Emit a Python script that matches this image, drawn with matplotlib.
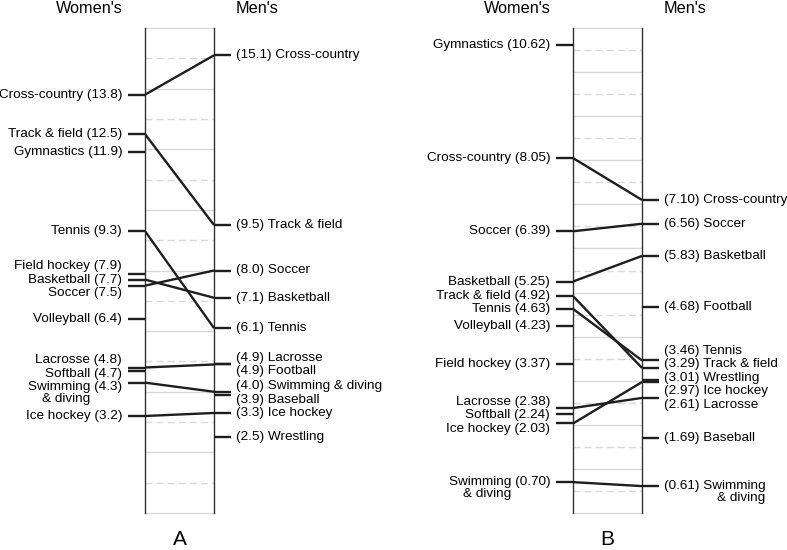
import matplotlib
matplotlib.use("Agg")
import matplotlib.pyplot as plt
import numpy as np

plt.rcParams["font.family"] = ["Liberation Sans", "DejaVu Sans"]

# painel A
mulheres_a = ["Cross-country", "Track & field", "Gymnastics", "Tennis", "Field hockey",
              "Basketball", "Soccer", "Volleyball", "Lacrosse", "Softball",
              "Swimming\n& diving", "Ice hockey"]
valores_mulheres_a = [13.8, 12.5, 11.9, 9.3, 7.9, 7.7, 7.5, 6.4, 4.8, 4.7, 4.3, 3.2]
homens_a = ["Cross-country", "Track & field", "Soccer", "Basketball", "Tennis", "Lacrosse",
            "Football", "Swimming & diving", "Baseball", "Ice hockey", "Wrestling"]
valores_homens_a = [15.1, 9.5, 8.0, 7.1, 6.1, 4.9, 4.9, 4.0, 3.9, 3.3, 2.5]

# painel B
mulheres_b = ["Gymnastics", "Cross-country", "Soccer", "Basketball", "Track & field", "Tennis",
              "Volleyball", "Field hockey", "Lacrosse", "Softball", "Ice hockey",
              "Swimming\n& diving"]
valores_mulheres_b = [10.62, 8.05, 6.39, 5.25, 4.92, 4.63, 4.23, 3.37, 2.38, 2.24, 2.03, 0.70]
homens_b = ["Cross-country", "Soccer", "Basketball", "Football", "Tennis", "Track & field",
            "Wrestling", "Ice hockey", "Lacrosse", "Baseball", "Swimming\n& diving"]
valores_homens_b = [7.10, 6.56, 5.83, 4.68, 3.46, 3.29, 3.01, 2.97, 2.61, 1.69, 0.61]

cor_linha = "#1e1e1e"
cor_grade = "#d9d9d9"
fs = 9.7


def espalhar(vals, gap):
    # afasta os rótulos que ficariam sobrepostos, centrando cada grupo na média
    vals = np.asarray(vals, dtype=float)
    ordem = list(np.argsort(-vals, kind="stable"))
    grupos = [[i] for i in ordem]
    while True:
        pos = {}
        for g in grupos:
            centro = vals[g].mean()
            n = len(g)
            for k, i in enumerate(g):
                pos[i] = centro + gap * ((n - 1) / 2 - k)
        juntou = False
        for j in range(len(grupos) - 1):
            if pos[grupos[j][-1]] - pos[grupos[j + 1][0]] < gap - 1e-9:
                grupos[j] = grupos[j] + grupos[j + 1]
                del grupos[j + 1]
                juntou = True
                break
        if not juntou:
            return [pos[i] for i in range(len(vals))]


def desenhar_painel(fig, ax, mulheres, vm, homens, vh, ymax, passo, casas, letra):
    ax.set_xlim(0, 1)
    ax.set_ylim(0, ymax)
    ax.set_xticks([])
    ax.set_yticks([])
    for s in ["top", "bottom"]:
        ax.spines[s].set_visible(False)
    for s in ["left", "right"]:
        ax.spines[s].set_color("#333333")
        ax.spines[s].set_linewidth(1.0)
        ax.spines[s].set_zorder(3)

    for k, y in enumerate(np.arange(0, ymax + 1e-9, passo)):
        if k % 2 == 0:
            ax.axhline(y, color=cor_grade, lw=1, zorder=1, clip_on=False)
        else:
            ax.axhline(y, color=cor_grade, lw=1, dashes=(5, 3), zorder=1)

    # linhas ligando o mesmo esporte
    chaves_h = [h.replace("\n", " ") for h in homens]
    for nome, v in zip(mulheres, vm):
        chave = nome.replace("\n", " ")
        if chave in chaves_h:
            v2 = vh[chaves_h.index(chave)]
            ax.plot([0, 1], [v, v2], color=cor_linha, lw=1.7, zorder=4,
                    solid_capstyle="butt")

    for v in vm:
        ax.plot([-0.25, 0], [v, v], color=cor_linha, lw=1.7, clip_on=False,
                solid_capstyle="butt", zorder=4)
    for v in vh:
        ax.plot([1, 1.25], [v, v], color=cor_linha, lw=1.7, clip_on=False,
                solid_capstyle="butt", zorder=4)

    gap = 13.5 * ymax / 485
    pos_m = espalhar(vm, gap)
    pos_h = espalhar(vh, gap)

    fig.canvas.draw()
    renderer = fig.canvas.get_renderer()

    def segunda_linha(texto, x_fim, y):
        ycen = ax.transData.transform((0, y))[1]
        fx, fy = fig.transFigure.inverted().transform((x_fim, ycen - 12))
        fig.text(fx, fy, texto, ha="right", va="center", fontsize=fs)

    for nome, v, p in zip(mulheres, vm, pos_m):
        partes = nome.split("\n")
        t = ax.text(-0.33, p, f"{partes[0]} ({v:.{casas}f})", ha="right", va="center",
                    fontsize=fs)
        if len(partes) > 1:
            bb = t.get_window_extent(renderer)
            tmp = ax.text(0, 0, partes[0], fontsize=fs)
            w = tmp.get_window_extent(renderer).width
            tmp.remove()
            segunda_linha(partes[1], bb.x0 + w, p)

    for nome, v, p in zip(homens, vh, pos_h):
        partes = nome.split("\n")
        t = ax.text(1.32, p, f"({v:.{casas}f}) {partes[0]}", ha="left", va="center",
                    fontsize=fs)
        if len(partes) > 1:
            bb = t.get_window_extent(renderer)
            segunda_linha(partes[1], bb.x1, p)

    ax.text(-0.80, 1.041, "Women's", ha="center", va="center", fontsize=11.7,
            transform=ax.transAxes)
    ax.text(1.62, 1.041, "Men's", ha="center", va="center", fontsize=11.7,
            transform=ax.transAxes)
    ax.text(0.5, -36 / 485, letra, ha="center", va="bottom", fontsize=15,
            transform=ax.transAxes)


fig = plt.figure(figsize=(7.87, 5.5), dpi=100)
ax_a = fig.add_axes([145 / 787, 37 / 550, 69 / 787, 485 / 550])
ax_b = fig.add_axes([573 / 787, 37 / 550, 69 / 787, 485 / 550])

desenhar_painel(fig, ax_a, mulheres_a, valores_mulheres_a, homens_a, valores_homens_a,
                16, 1, 1, "A")
desenhar_painel(fig, ax_b, mulheres_b, valores_mulheres_b, homens_b, valores_homens_b,
                11, 0.5, 2, "B")

fig.savefig("out.png", dpi=100)
plt.close()
